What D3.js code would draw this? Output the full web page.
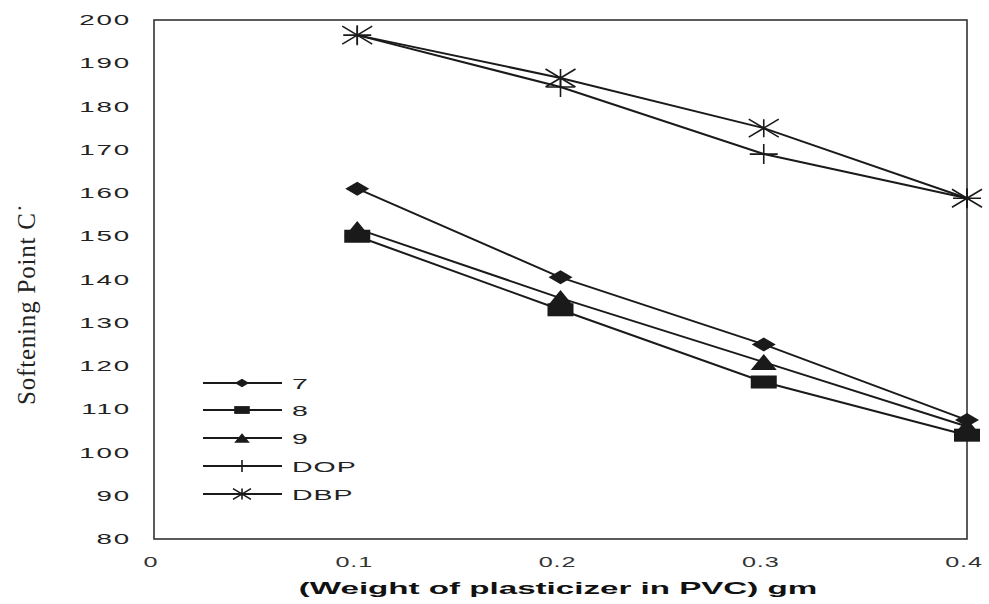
<!DOCTYPE html>
<html>
<head>
<meta charset="utf-8">
<script src="https://cdn.jsdelivr.net/npm/d3@7"></script>
<style>
  html, body { margin: 0; padding: 0; background: #fff; }
  svg { display: block; }
</style>
</head>
<body>
<svg id="chart" width="989" height="604"></svg>
<script>
// Softening point of PVC vs. weight of plasticizer
const weights = [0.1, 0.2, 0.3, 0.4];
const s7   = [161, 140.5, 125, 107.5];
const s8   = [150, 133, 116.3, 104];
const s9   = [151.7, 135.7, 120.9, 106];
const sDOP = [196.5, 184.5, 169, 158.8];
const sDBP = [196.5, 186.6, 175, 158.8];
const seriesNames = ["7", "8", "9", "DOP", "DBP"];
const xTicks = [0, 0.1, 0.2, 0.3, 0.4];
const xTickLabels = ["0", "0.1", "0.2", "0.3", "0.4"];
const yTicks = [80, 90, 100, 110, 120, 130, 140, 150, 160, 170, 180, 190, 200];
const xTitle = "(Weight of plasticizer in PVC) gm";
const yTitle = "Softening Point C\u02D9";

const series = [
  { name: seriesNames[0], values: s7,   marker: "diamond" },
  { name: seriesNames[1], values: s8,   marker: "square" },
  { name: seriesNames[2], values: s9,   marker: "triangle" },
  { name: seriesNames[3], values: sDOP, marker: "plus" },
  { name: seriesNames[4], values: sDBP, marker: "star" }
];

const svg = d3.select("#chart");
const ink = "#1a1a1a";
const stretch = 1.7;

const x = d3.scaleLinear().domain([0, 0.4]).range([154, 967]);
const y = d3.scaleLinear().domain([80, 200]).range([539, 20]);

// horizontally widened text, as in the printed figure
function wideText(parent, tx, ty, str, opts) {
  const g = parent.append("g").attr("transform", `translate(${tx},${ty})`);
  const t = g.append("text")
    .attr("transform", `scale(${opts.sx || stretch},1)`)
    .attr("text-anchor", opts.anchor || "start")
    .attr("font-family", opts.family || "'Liberation Sans', Arial, sans-serif")
    .attr("font-size", opts.size || 15)
    .attr("font-weight", opts.weight || "normal")
    .attr("letter-spacing", opts.ls || 0)
    .attr("fill", opts.fill || ink)
    .text(str);
  return t;
}

// marker shapes; s = scale factor
function drawMarker(g, type, cx, cy, s) {
  s = s || 1;
  if (type === "diamond") {
    const w = 12 * s, h = 7 * s;
    g.append("path")
      .attr("d", `M${cx - w},${cy} L${cx},${cy - h} L${cx + w},${cy} L${cx},${cy + h} Z`)
      .attr("fill", ink);
  } else if (type === "square") {
    const w = 13 * s, h = 6.5 * s;
    g.append("rect")
      .attr("x", cx - w).attr("y", cy - h)
      .attr("width", 2 * w).attr("height", 2 * h)
      .attr("fill", ink);
  } else if (type === "triangle") {
    const w = 13 * s, h = 8 * s;
    g.append("path")
      .attr("d", `M${cx - w},${cy + h} L${cx},${cy - h} L${cx + w},${cy + h} Z`)
      .attr("fill", ink);
  } else if (type === "plus") {
    const w = 14 * s, h = 10 * s;
    g.append("path")
      .attr("d", `M${cx - w},${cy} L${cx + w},${cy} M${cx},${cy - h} L${cx},${cy + h}`)
      .attr("stroke", ink).attr("stroke-width", 1.6).attr("fill", "none");
  } else if (type === "star") {
    const w = 15 * s, h = 9 * s;
    g.append("path")
      .attr("d", `M${cx - w},${cy - h} L${cx + w},${cy + h} M${cx - w},${cy + h} L${cx + w},${cy - h} M${cx},${cy - h} L${cx},${cy + h}`)
      .attr("stroke", ink).attr("stroke-width", 1.6).attr("fill", "none");
  }
}

// plot frame
svg.append("rect")
  .attr("x", x(0)).attr("y", y(200))
  .attr("width", x(0.4) - x(0)).attr("height", y(80) - y(200))
  .attr("fill", "none").attr("stroke", "#333").attr("stroke-width", 1.6);

// y tick labels
yTicks.forEach(v => {
  wideText(svg, 131, y(v) + 5, String(v), { anchor: "end", size: 15, sx: 1.85, ls: 1, fill: "#222" });
});

// x tick labels
xTicks.forEach((v, i) => {
  wideText(svg, x(v) - 3, 567, xTickLabels[i], { anchor: "middle", size: 14, sx: 1.8, ls: 0.5, fill: "#333" });
});

// axis titles
wideText(svg, 558, 594, xTitle, { anchor: "middle", size: 17, sx: 1.95, weight: "bold", fill: "#111" });

svg.append("text")
  .attr("transform", `translate(35,304) rotate(-90)`)
  .attr("text-anchor", "middle")
  .attr("font-family", "'Liberation Serif', 'Times New Roman', serif")
  .attr("font-size", 25)
  .attr("letter-spacing", 0.8)
  .attr("fill", "#222")
  .text(yTitle);

// series lines and markers
const line = d3.line().x((d, i) => x(weights[i])).y(d => y(d));
const plot = svg.append("g");
series.forEach(sr => {
  plot.append("path")
    .attr("d", line(sr.values))
    .attr("fill", "none").attr("stroke", ink).attr("stroke-width", 2);
});
series.forEach(sr => {
  sr.values.forEach((v, i) => drawMarker(plot, sr.marker, x(weights[i]), y(v), 1));
});

// legend
const legendY = [383, 410, 438, 466, 494];
const legend = svg.append("g");
series.forEach((sr, i) => {
  const ly = legendY[i];
  legend.append("line")
    .attr("x1", 203).attr("x2", 282).attr("y1", ly).attr("y2", ly)
    .attr("stroke", ink).attr("stroke-width", 1.8);
  drawMarker(legend, sr.marker, 242, ly, 0.6);
  wideText(legend, 292, ly + 6, sr.name, { size: 15, sx: 1.9, ls: 0.5, fill: "#222" });
});
</script>
</body>
</html>
